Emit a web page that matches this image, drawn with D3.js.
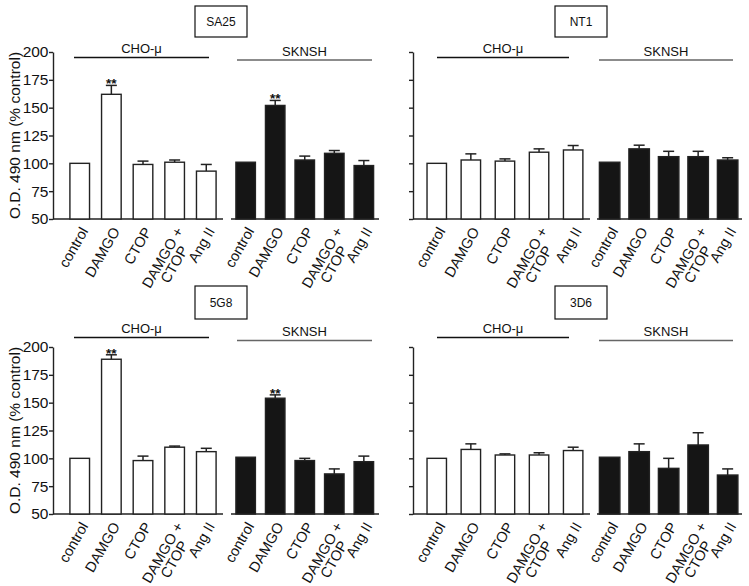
<!DOCTYPE html>
<html>
<head>
<meta charset="utf-8">
<script src="https://cdn.jsdelivr.net/npm/d3@7"></script>
<style>
body { margin: 0; background: #fff; }
svg { display: block; font-family: "Liberation Sans", Arial, Helvetica, sans-serif; }
</style>
</head>
<body>
<svg id="chart" width="749" height="586"></svg>
<script>
// données
const categories = ["control", "DAMGO", "CTOP", "DAMGO + CTOP", "Ang II"];
const groupNames = ["CHO-\u03bc", "SKNSH"];
const panelTitles = ["SA25", "NT1", "5G8", "3D6"];
const yTicks = [50, 75, 100, 125, 150, 175, 200];
const yLabel = "O.D. 490 nm (% control)";

const sa25Cho = [100, 162, 99, 101, 93];
const sa25ChoErr = [0, 8, 3, 2, 6];
const sa25Sknsh = [101, 152, 103, 109, 98];
const sa25SknshErr = [0, 4.5, 3.5, 2.5, 4.5];

const nt1Cho = [100, 103, 102, 110, 112];
const nt1ChoErr = [0, 5.5, 2, 3, 4];
const nt1Sknsh = [101, 113, 106, 106, 103];
const nt1SknshErr = [0, 3.3, 4.8, 4.8, 2];

const g58Cho = [100, 189, 98, 110, 106];
const g58ChoErr = [0, 4, 4, 1, 3];
const g58Sknsh = [101, 154, 98, 86, 97];
const g58SknshErr = [0, 3, 2, 4.5, 5];

const d36Cho = [100, 108, 103, 103, 107];
const d36ChoErr = [0, 5, 1, 2, 3];
const d36Sknsh = [101, 106, 91, 112, 85];
const d36SknshErr = [0, 7, 9, 11, 5.5];

// ** au-dessus de DAMGO
const starCategory = "DAMGO";
const starPanels = ["SA25", "5G8"];

const panels = [
  { title: panelTitles[0], col: 0, row: 0, series: [[sa25Cho, sa25ChoErr], [sa25Sknsh, sa25SknshErr]] },
  { title: panelTitles[1], col: 1, row: 0, series: [[nt1Cho, nt1ChoErr], [nt1Sknsh, nt1SknshErr]] },
  { title: panelTitles[2], col: 0, row: 1, series: [[g58Cho, g58ChoErr], [g58Sknsh, g58SknshErr]] },
  { title: panelTitles[3], col: 1, row: 1, series: [[d36Cho, d36ChoErr], [d36Sknsh, d36SknshErr]] }
];

// mise en page
const cols = [
  { ax: 53, labels: true, groups: [
      { range: [9, 171], pi: 0.38, po: 0.25, base: [0, 170], line: [21, 156] },
      { range: [177, 326.5], pi: 0.34, po: 0.2, base: [178, 326], line: [184, 319] } ] },
  { ax: 413, labels: false, groups: [
      { range: [5.5, 178.4], pi: 0.43, po: 0.25, base: [0, 177], line: [24, 156] },
      { range: [180.5, 330.8], pi: 0.305, po: 0.2, base: [184, 329], line: [186, 320] } ] }
];
const rows = [
  { top: 52, bottom: 219, lineY: [57.5, 60], textY: [53, 55.5], box: [6, 37] },
  { top: 347, bottom: 514, lineY: [337.5, 340.5], textY: [333, 336], box: [286, 319] }
];
const groupLineColors = ["#111", "#666"];
const barFills = ["#fff", "#151515"];

const svg = d3.select("#chart");

panels.forEach(p => {
  const col = cols[p.col];
  const row = rows[p.row];
  const g = svg.append("g").attr("transform", `translate(${col.ax},0)`);

  const y = d3.scaleLinear().domain([50, 200]).range([row.bottom, row.top]);

  const axe = d3.axisLeft(y)
    .tickValues(yTicks)
    .tickSize(4)
    .tickSizeOuter(0)
    .tickPadding(0.5);
  if (!col.labels) axe.tickFormat(() => "");

  const gy = g.append("g").call(axe);
  gy.select(".domain").attr("stroke", "#222").attr("stroke-width", 1.4);
  gy.selectAll(".tick line").attr("stroke", "#222").attr("stroke-width", 1.4);
  gy.selectAll(".tick text")
    .attr("fill", "#111")
    .style("font-size", "15.5px")
    .style("font-family", "'Liberation Sans', Arial, sans-serif");

  if (col.labels) {
    g.append("text")
      .attr("transform", `translate(${-33},${(row.top + row.bottom) / 2}) rotate(-90)`)
      .attr("text-anchor", "middle")
      .attr("fill", "#111")
      .style("font-size", "15.5px")
      .text(yLabel);
  }

  p.series.forEach((s, gi) => {
    const spec = col.groups[gi];
    const vals = s[0];
    const errs = s[1];
    const x = d3.scaleBand()
      .domain(categories)
      .range(spec.range)
      .paddingInner(spec.pi)
      .paddingOuter(spec.po);

    const data = categories.map((c, i) => ({ cat: c, v: vals[i], e: errs[i] }));

    // ligne de base
    g.append("line")
      .attr("x1", spec.base[0]).attr("x2", spec.base[1])
      .attr("y1", y(50)).attr("y2", y(50))
      .attr("stroke", "#222").attr("stroke-width", 1.4);

    // barres d'erreur
    const eb = g.selectAll(null).data(data.filter(d => d.e > 0)).enter().append("g");
    eb.append("line")
      .attr("x1", d => x(d.cat) + x.bandwidth() / 2)
      .attr("x2", d => x(d.cat) + x.bandwidth() / 2)
      .attr("y1", d => y(d.v))
      .attr("y2", d => y(d.v + d.e))
      .attr("stroke", "#222").attr("stroke-width", 1.5);
    eb.append("line")
      .attr("x1", d => x(d.cat) + x.bandwidth() / 2 - 5.5)
      .attr("x2", d => x(d.cat) + x.bandwidth() / 2 + 5.5)
      .attr("y1", d => y(d.v + d.e))
      .attr("y2", d => y(d.v + d.e))
      .attr("stroke", "#222").attr("stroke-width", 1.5);

    // barres
    g.selectAll(null).data(data).enter().append("rect")
      .attr("x", d => x(d.cat))
      .attr("y", d => y(d.v))
      .attr("width", x.bandwidth())
      .attr("height", d => y(50) - y(d.v))
      .attr("fill", barFills[gi])
      .attr("stroke", "#222")
      .attr("stroke-width", 1.4);

    // étoiles
    if (starPanels.includes(p.title)) {
      const d = data.find(d => d.cat === starCategory);
      g.append("text")
        .attr("x", x(d.cat) + x.bandwidth() / 2)
        .attr("y", y(d.v + d.e) + 3)
        .attr("text-anchor", "middle")
        .attr("fill", "#111")
        .style("font-size", "13.5px")
        .style("font-weight", "bold")
        .text("**");
    }

    // trait et nom du groupe
    g.append("line")
      .attr("x1", spec.line[0]).attr("x2", spec.line[1])
      .attr("y1", row.lineY[gi]).attr("y2", row.lineY[gi])
      .attr("stroke", groupLineColors[gi]).attr("stroke-width", 1.3);
    g.append("text")
      .attr("x", (spec.line[0] + spec.line[1]) / 2)
      .attr("y", row.textY[gi])
      .attr("text-anchor", "middle")
      .attr("fill", "#111")
      .style("font-size", "13px")
      .text(groupNames[gi]);

    // étiquettes des catégories
    data.forEach(d => {
      const cx = x(d.cat) + x.bandwidth() / 2;
      const lab = g.append("g")
        .attr("transform", `translate(${cx + 9},${y(50) + 12}) rotate(-60)`);
      const parts = d.cat === "DAMGO + CTOP" ? ["DAMGO +", "CTOP"] : [d.cat];
      const t1 = lab.append("text")
        .attr("text-anchor", "end")
        .attr("fill", "#111")
        .style("font-size", "14.5px")
        .text(parts[0]);
      if (parts.length > 1) {
        const l1 = t1.node().getComputedTextLength();
        lab.append("text")
          .attr("x", -l1 / 2)
          .attr("y", 13.5)
          .attr("text-anchor", "middle")
          .attr("fill", "#111")
          .style("font-size", "14.5px")
          .text(parts[1]);
      }
    });
  });

  // cadre du titre
  g.append("rect")
    .attr("x", 142).attr("y", row.box[0])
    .attr("width", 52).attr("height", row.box[1] - row.box[0])
    .attr("fill", "none").attr("stroke", "#111").attr("stroke-width", 1.2);
  g.append("text")
    .attr("x", 168).attr("y", (row.box[0] + row.box[1]) / 2 + 4.5)
    .attr("text-anchor", "middle")
    .attr("fill", "#111")
    .style("font-size", "12px")
    .text(p.title);
});
</script>
</body>
</html>
